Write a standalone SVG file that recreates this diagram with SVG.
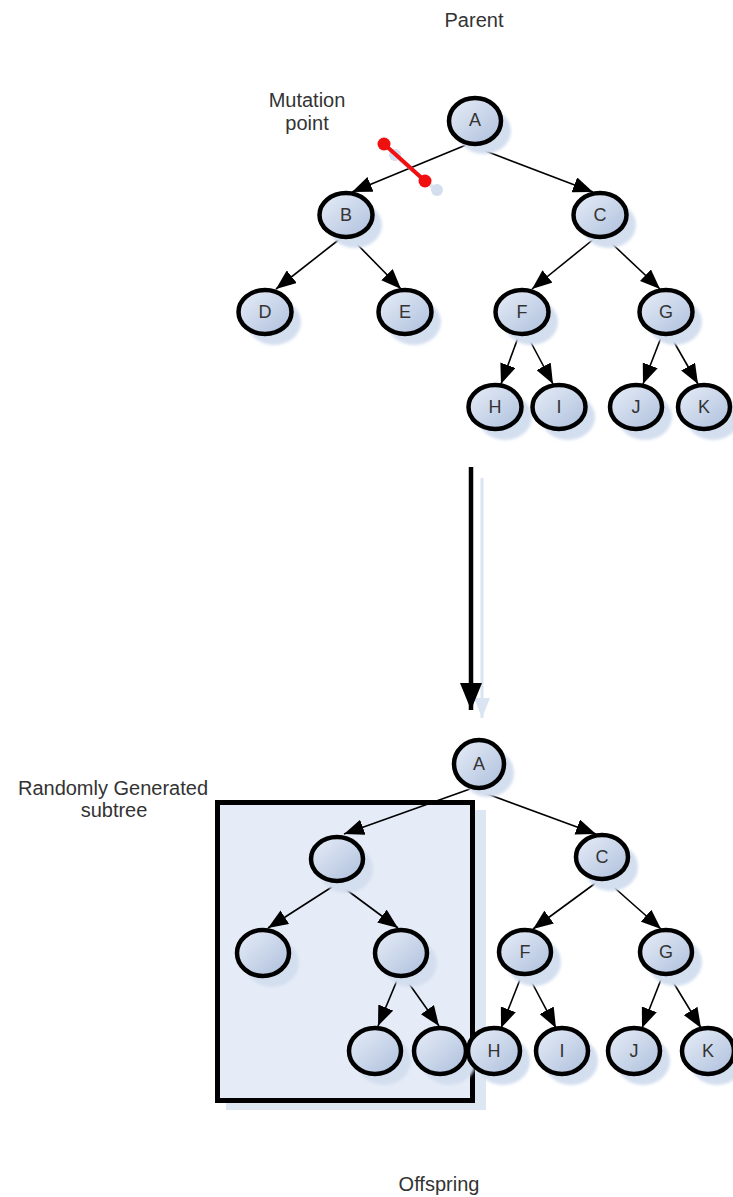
<svg xmlns="http://www.w3.org/2000/svg" width="733" height="1197" viewBox="0 0 733 1197">
  <style>
    .lbl { font-family: "Liberation Sans", Arial, sans-serif; font-size: 20px; fill: #333; text-anchor: middle; }
    .nl { font-family: "Liberation Sans", Arial, sans-serif; font-size: 18px; fill: #333; text-anchor: middle; dominant-baseline: central; }
    .node { fill: url(#nodeFill); stroke: #000; stroke-width: 4.5; }
    .shadow { fill: #d3deef; filter: url(#soft); }
    .edge { stroke: #000; stroke-width: 1.6; fill: none; marker-end: url(#head); }
  </style>
  <defs>
    <linearGradient id="nodeFill" x1="0" y1="0" x2="1" y2="1">
      <stop offset="0" stop-color="#e8eef8"/>
      <stop offset="1" stop-color="#adbfdc"/>
    </linearGradient>
    <filter id="soft" x="-20%" y="-20%" width="140%" height="140%">
      <feGaussianBlur stdDeviation="1.5"/>
    </filter>
    <marker id="head" markerUnits="userSpaceOnUse" markerWidth="22" markerHeight="16" refX="20" refY="8" orient="auto">
      <path d="M0,0 L20,8 L0,16 Z" fill="#000"/>
    </marker>
    <marker id="bighead" markerUnits="userSpaceOnUse" markerWidth="28" markerHeight="24" refX="27" refY="12" orient="auto">
      <path d="M0,1 L27,12 L0,23 Z" fill="#000"/>
    </marker>
    <marker id="shadowhead" markerUnits="userSpaceOnUse" markerWidth="22" markerHeight="20" refX="20" refY="10" orient="auto">
      <path d="M0,2 L20,10 L0,18 Z" fill="#dbe4f2"/>
    </marker>
  </defs>

  <rect width="733" height="1197" fill="#fff"/>

  <!-- captions -->
  <text class="lbl" x="474" y="27">Parent</text>
  <text class="lbl" x="307" y="107">Mutation</text>
  <text class="lbl" x="307" y="130">point</text>
  <text class="lbl" x="113" y="795">Randomly Generated</text>
  <text class="lbl" x="114" y="817">subtree</text>
  <text class="lbl" x="439" y="1191">Offspring</text>

  <!-- subtree box -->
  <g id="subtree-box">
    <rect x="226" y="810" width="260" height="300" fill="#dde6f3"/>
    <rect x="217.5" y="802.5" width="255" height="298" fill="#e5ecf7" stroke="#000" stroke-width="5"/>
  </g>

  <!-- transformation arrow -->
  <g id="transform-arrow">
    <line x1="482" y1="478" x2="482" y2="718" stroke="#dbe4f2" stroke-width="3" marker-end="url(#shadowhead)"/>
    <line x1="471" y1="467" x2="471" y2="710" stroke="#000" stroke-width="4.5" marker-end="url(#bighead)"/>
  </g>

  <!-- connectors -->
  <g id="connectors">
    <!-- parent tree -->
    <line class="edge" x1="466" y1="145" x2="352" y2="192"/>
    <line class="edge" x1="470" y1="145" x2="593" y2="192"/>
    <line class="edge" x1="341" y1="238" x2="276" y2="289"/>
    <line class="edge" x1="351" y1="238" x2="401" y2="289"/>
    <line class="edge" x1="595" y1="238" x2="532" y2="289"/>
    <line class="edge" x1="606" y1="238" x2="660" y2="289"/>
    <line class="edge" x1="519" y1="335" x2="501" y2="384"/>
    <line class="edge" x1="527" y1="335" x2="553" y2="384"/>
    <line class="edge" x1="662" y1="335" x2="643" y2="384"/>
    <line class="edge" x1="670" y1="335" x2="698" y2="384"/>
    <!-- offspring tree -->
    <line class="edge" x1="470" y1="789" x2="344" y2="834"/>
    <line class="edge" x1="474" y1="789" x2="596" y2="834"/>
    <line class="edge" x1="335" y1="885" x2="268" y2="928"/>
    <line class="edge" x1="340" y1="885" x2="398" y2="928"/>
    <line class="edge" x1="398" y1="978" x2="378" y2="1026"/>
    <line class="edge" x1="405" y1="978" x2="439" y2="1026"/>
    <line class="edge" x1="597" y1="882" x2="533" y2="929"/>
    <line class="edge" x1="608" y1="882" x2="661" y2="929"/>
    <line class="edge" x1="521" y1="977" x2="501" y2="1028"/>
    <line class="edge" x1="529" y1="977" x2="556" y2="1028"/>
    <line class="edge" x1="662" y1="977" x2="642" y2="1028"/>
    <line class="edge" x1="670" y1="977" x2="701" y2="1028"/>
  </g>

  <!-- mutation point marker -->
  <g id="mutation-point">
    <line x1="395" y1="155" x2="436" y2="190" stroke="#dbe4f2" stroke-width="4"/>
    <circle cx="395" cy="155" r="6" fill="#d3deef"/>
    <circle cx="437" cy="190" r="6" fill="#d3deef"/>
    <line x1="384" y1="144" x2="425" y2="181" stroke="#f01010" stroke-width="4"/>
    <circle cx="384" cy="144" r="6.5" fill="#f01010"/>
    <circle cx="425" cy="181" r="6.5" fill="#f01010"/>
  </g>

  <!-- parent tree nodes -->
  <g id="p-A"><ellipse class="shadow" cx="484" cy="131" rx="27" ry="23"/><ellipse class="node" cx="475" cy="121" rx="26" ry="23"/><text class="nl" x="475" y="120">A</text></g>
  <g id="p-B"><ellipse class="shadow" cx="355" cy="225" rx="27" ry="23"/><ellipse class="node" cx="346" cy="215" rx="26.5" ry="22"/><text class="nl" x="346" y="215">B</text></g>
  <g id="p-C"><ellipse class="shadow" cx="609" cy="225" rx="27" ry="23"/><ellipse class="node" cx="600" cy="215" rx="26.5" ry="22"/><text class="nl" x="600" y="215">C</text></g>
  <g id="p-D"><ellipse class="shadow" cx="274" cy="322" rx="27" ry="23"/><ellipse class="node" cx="265" cy="312" rx="26.5" ry="22"/><text class="nl" x="265" y="312">D</text></g>
  <g id="p-E"><ellipse class="shadow" cx="414" cy="322" rx="27" ry="23"/><ellipse class="node" cx="405" cy="312" rx="26.5" ry="22"/><text class="nl" x="405" y="312">E</text></g>
  <g id="p-F"><ellipse class="shadow" cx="531" cy="322" rx="27" ry="23"/><ellipse class="node" cx="522" cy="312" rx="26.5" ry="22"/><text class="nl" x="522" y="312">F</text></g>
  <g id="p-G"><ellipse class="shadow" cx="675" cy="322" rx="27" ry="23"/><ellipse class="node" cx="666" cy="312" rx="26.5" ry="22"/><text class="nl" x="666" y="312">G</text></g>
  <g id="p-H"><ellipse class="shadow" cx="505" cy="417" rx="27" ry="23"/><ellipse class="node" cx="495" cy="407" rx="26.5" ry="22"/><text class="nl" x="495" y="407">H</text></g>
  <g id="p-I"><ellipse class="shadow" cx="568" cy="417" rx="27" ry="23"/><ellipse class="node" cx="559" cy="407" rx="26.5" ry="22"/><text class="nl" x="559" y="407">I</text></g>
  <g id="p-J"><ellipse class="shadow" cx="645" cy="417" rx="27" ry="23"/><ellipse class="node" cx="636" cy="407" rx="26" ry="22"/><text class="nl" x="636" y="407">J</text></g>
  <g id="p-K"><ellipse class="shadow" cx="713" cy="417" rx="27" ry="23"/><ellipse class="node" cx="704" cy="407" rx="26" ry="22"/><text class="nl" x="704" y="407">K</text></g>

  <!-- offspring tree nodes -->
  <g id="o-A"><ellipse class="shadow" cx="488" cy="773" rx="26" ry="24"/><ellipse class="node" cx="479" cy="764" rx="25" ry="24"/><text class="nl" x="479" y="764">A</text></g>
  <g id="o-r"><ellipse class="shadow" cx="346" cy="869" rx="27" ry="24"/><ellipse class="node" cx="337" cy="859" rx="26" ry="22"/></g>
  <g id="o-rl"><ellipse class="shadow" cx="272" cy="963" rx="27" ry="24"/><ellipse class="node" cx="263" cy="953" rx="26" ry="23"/></g>
  <g id="o-rr"><ellipse class="shadow" cx="410" cy="963" rx="27" ry="24"/><ellipse class="node" cx="401" cy="953" rx="26" ry="23"/></g>
  <g id="o-rrl"><ellipse class="shadow" cx="384" cy="1061" rx="27" ry="24"/><ellipse class="node" cx="375" cy="1051" rx="26" ry="23"/></g>
  <g id="o-rrr"><ellipse class="shadow" cx="449" cy="1061" rx="27" ry="24"/><ellipse class="node" cx="440" cy="1051" rx="26" ry="23"/></g>
  <g id="o-C"><ellipse class="shadow" cx="611" cy="867" rx="27" ry="24"/><ellipse class="node" cx="602" cy="857" rx="26" ry="22"/><text class="nl" x="602" y="857">C</text></g>
  <g id="o-F"><ellipse class="shadow" cx="534" cy="962" rx="27" ry="24"/><ellipse class="node" cx="525" cy="952" rx="26" ry="22"/><text class="nl" x="525" y="952">F</text></g>
  <g id="o-G"><ellipse class="shadow" cx="675" cy="962" rx="27" ry="24"/><ellipse class="node" cx="666" cy="952" rx="26" ry="22"/><text class="nl" x="666" y="952">G</text></g>
  <g id="o-H"><ellipse class="shadow" cx="503" cy="1061" rx="27" ry="24"/><ellipse class="node" cx="494" cy="1051" rx="26" ry="23"/><text class="nl" x="494" y="1051">H</text></g>
  <g id="o-I"><ellipse class="shadow" cx="571" cy="1061" rx="27" ry="24"/><ellipse class="node" cx="562" cy="1051" rx="26" ry="23"/><text class="nl" x="562" y="1051">I</text></g>
  <g id="o-J"><ellipse class="shadow" cx="643" cy="1061" rx="27" ry="24"/><ellipse class="node" cx="634" cy="1051" rx="26" ry="23"/><text class="nl" x="634" y="1051">J</text></g>
  <g id="o-K"><ellipse class="shadow" cx="717" cy="1061" rx="27" ry="24"/><ellipse class="node" cx="708" cy="1051" rx="26" ry="23"/><text class="nl" x="708" y="1051">K</text></g>
</svg>
